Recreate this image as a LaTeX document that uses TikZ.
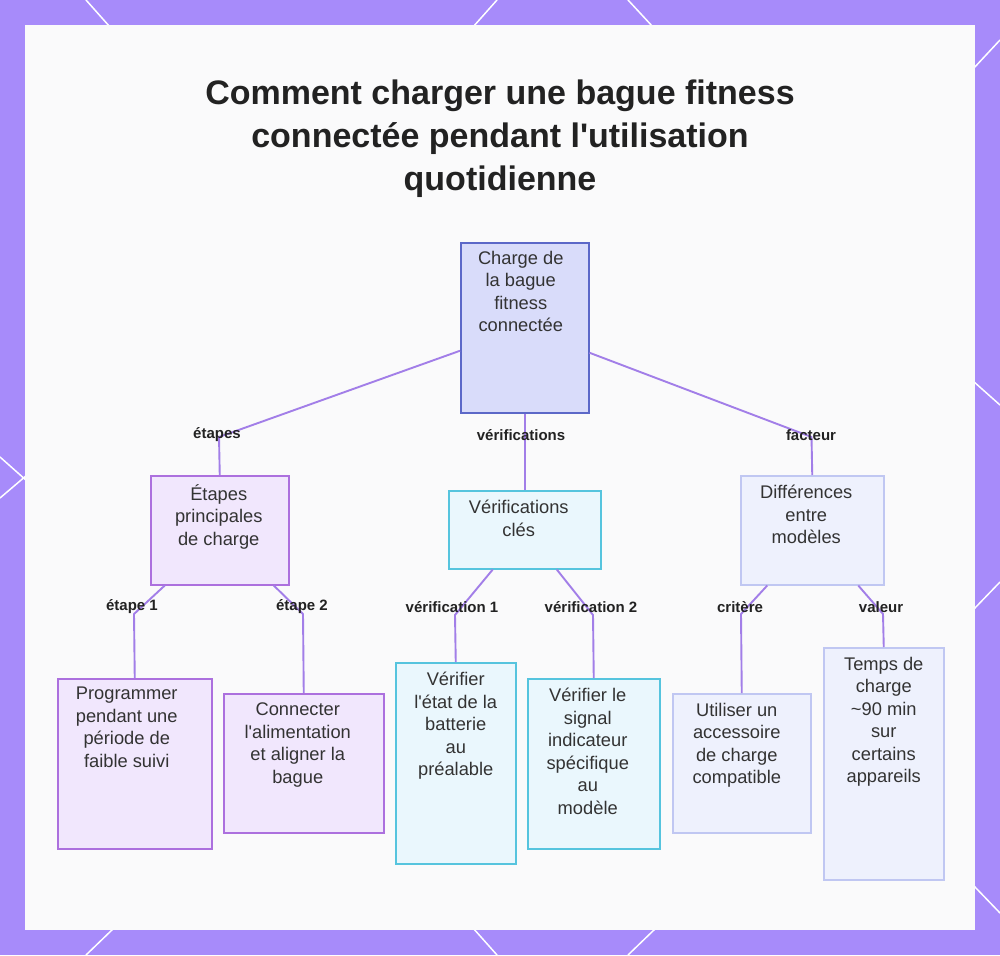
\documentclass[tikz,border=0pt]{standalone}
\usepackage{fontspec}
\setmainfont{Liberation Sans}
\definecolor{bgpurple}{RGB}{167,139,250}
\definecolor{panelc}{RGB}{250,250,251}
\definecolor{edgec}{RGB}{162,126,232}
\definecolor{rootfill}{RGB}{217,220,250}
\definecolor{rootdraw}{RGB}{92,104,200}
\definecolor{purfill}{RGB}{241,231,253}
\definecolor{purdraw}{RGB}{172,112,222}
\definecolor{cyafill}{RGB}{234,247,253}
\definecolor{cyadraw}{RGB}{86,196,222}
\definecolor{lavfill}{RGB}{238,241,253}
\definecolor{lavdraw}{RGB}{192,199,242}
\definecolor{txtc}{RGB}{51,51,51}
\definecolor{titlec}{RGB}{34,34,34}
\begin{document}
\begin{tikzpicture}[x=1pt,y=-1pt,
  edge/.style={draw=edgec, line width=1.9pt, line join=round},
  box/.style={rectangle, anchor=north west, inner sep=0pt, line width=1.5pt},
  rootbox/.style={box, fill=rootfill, draw=rootdraw},
  purbox/.style={box, fill=purfill, draw=purdraw},
  cyabox/.style={box, fill=cyafill, draw=cyadraw},
  lavbox/.style={box, fill=lavfill, draw=lavdraw},
  txt/.style={anchor=north, align=center, inner sep=0pt, text=txtc, font=\fontsize{18.3}{22.5}\selectfont},
  elab/.style={inner sep=0pt, text=titlec, font=\fontsize{15}{18}\selectfont\bfseries},
  deco/.style={draw=white, line width=1.5pt}]
\useasboundingbox (0,0) rectangle (1000,955);
\fill[bgpurple] (0,0) rectangle (1000,955);
% decorative white lines in the border
\draw[deco] (86,0) -- (110,27);
\draw[deco] (497,0) -- (473,27);
\draw[deco] (628,0) -- (653,27);
\draw[deco] (1000,40) -- (973,69);
\draw[deco] (973,381) -- (1000,405);
\draw[deco] (973,610) -- (1000,582);
\draw[deco] (0,457) -- (27,481);
\draw[deco] (0,498) -- (27,475);
\draw[deco] (114,928) -- (86,955);
\draw[deco] (473,928) -- (497,955);
\draw[deco] (656,928) -- (628,955);
\draw[deco] (974,886) -- (1000,913);
\fill[panelc] (25,25) rectangle (975,930);
% title
\node[align=center, inner sep=0pt, text=titlec, font=\fontsize{34}{43}\selectfont\bfseries] (title) at (500,139)
  {Comment charger une bague fitness\\connectée pendant l\textquotesingle utilisation\\quotidienne};
% boxes
\node[rootbox, minimum width=128pt, minimum height=170pt] (root) at (460,242) {};
\node[purbox, minimum width=138pt, minimum height=109pt] (etapes) at (150,475) {};
\node[cyabox, minimum width=152pt, minimum height=78pt] (verif) at (448,490) {};
\node[lavbox, minimum width=143pt, minimum height=109pt] (diff) at (740,475) {};
\node[purbox, minimum width=154pt, minimum height=170pt] (prog) at (57,678) {};
\node[purbox, minimum width=160pt, minimum height=139pt] (conn) at (223,693) {};
\node[cyabox, minimum width=120pt, minimum height=201pt] (vetat) at (395,662) {};
\node[cyabox, minimum width=132pt, minimum height=170pt] (vsig) at (527,678) {};
\node[lavbox, minimum width=138pt, minimum height=139pt] (util) at (672,693) {};
\node[lavbox, minimum width=120pt, minimum height=232pt] (temps) at (823,647) {};
% box texts
\node[txt] (roott) at ([xshift=-4pt,yshift=-9pt]root.north) {Charge de\\la bague\\fitness\\connectée};
\node[txt] (etapest) at ([xshift=-1pt,yshift=-9pt]etapes.north) {Étapes\\principales\\de charge};
\node[txt] (veriftt) at ([xshift=-6pt,yshift=-10pt]verif.north) {Vérifications\\clés};
\node[txt] (difft) at ([xshift=-6pt,yshift=-10pt]diff.north) {Différences\\entre\\modèles};
\node[txt] (progt) at ([xshift=-8pt,yshift=-9pt]prog.north) {Programmer\\pendant une\\période de\\faible suivi};
\node[txt] (connt) at ([xshift=-6pt,yshift=-10pt]conn.north) {Connecter\\l\textquotesingle alimentation\\et aligner la\\bague};
\node[txt] (vetatt) at ([yshift=-10pt]vetat.north) {Vérifier\\l\textquotesingle état de la\\batterie\\au\\préalable};
\node[txt] (vsigt) at ([xshift=-6pt,yshift=-10pt]vsig.north) {Vérifier le\\signal\\indicateur\\spécifique\\au\\modèle};
\node[txt] (utilt) at ([xshift=-5pt,yshift=-10pt]util.north) {Utiliser un\\accessoire\\de charge\\compatible};
\node[txt] (tempst) at ([yshift=-10pt]temps.north) {Temps de\\charge\\\textasciitilde90 min\\sur\\certains\\appareils};
% bend coordinates
\coordinate (b1) at (219,437);
\coordinate (b3) at (811.5,437);
\coordinate (b11) at (134,614);
\coordinate (b12) at (303,614);
\coordinate (b21) at (455,615);
\coordinate (b22) at (593,615);
\coordinate (b31) at (741,614);
\coordinate (b32) at (883,614);
% connectors
\draw[edge] ([yshift=-23pt]root.west) -- (b1) -- (etapes.north);
\draw[edge] (root.south) -- (verif.north);
\draw[edge] ([yshift=-25pt]root.east) -- (b3) -- (diff.north);
\draw[edge] ([xshift=-55pt]etapes.south) -- (b11) -- (prog.north);
\draw[edge] ([xshift=54pt]etapes.south) -- (b12) -- (conn.north);
\draw[edge] ([xshift=-32pt]verif.south) -- (b21) -- (vetat.north);
\draw[edge] ([xshift=32pt]verif.south) -- (b22) -- (vsig.north);
\draw[edge] ([xshift=-45pt]diff.south) -- (b31) -- (util.north);
\draw[edge] ([xshift=46pt]diff.south) -- (b32) -- (temps.north);
% edge labels
\node[elab] (l1) at (217,435) {étapes};
\node[elab] (l2) at (521,435) {vérifications};
\node[elab] (l3) at (811,435) {facteur};
\node[elab] (l11) at (132,607) {étape 1};
\node[elab] (l12) at (302,607) {étape 2};
\node[elab] (l21) at (452,607) {vérification 1};
\node[elab] (l22) at (591,607) {vérification 2};
\node[elab] (l31) at (740,607) {critère};
\node[elab] (l32) at (881,607) {valeur};
\end{tikzpicture}
\end{document}
